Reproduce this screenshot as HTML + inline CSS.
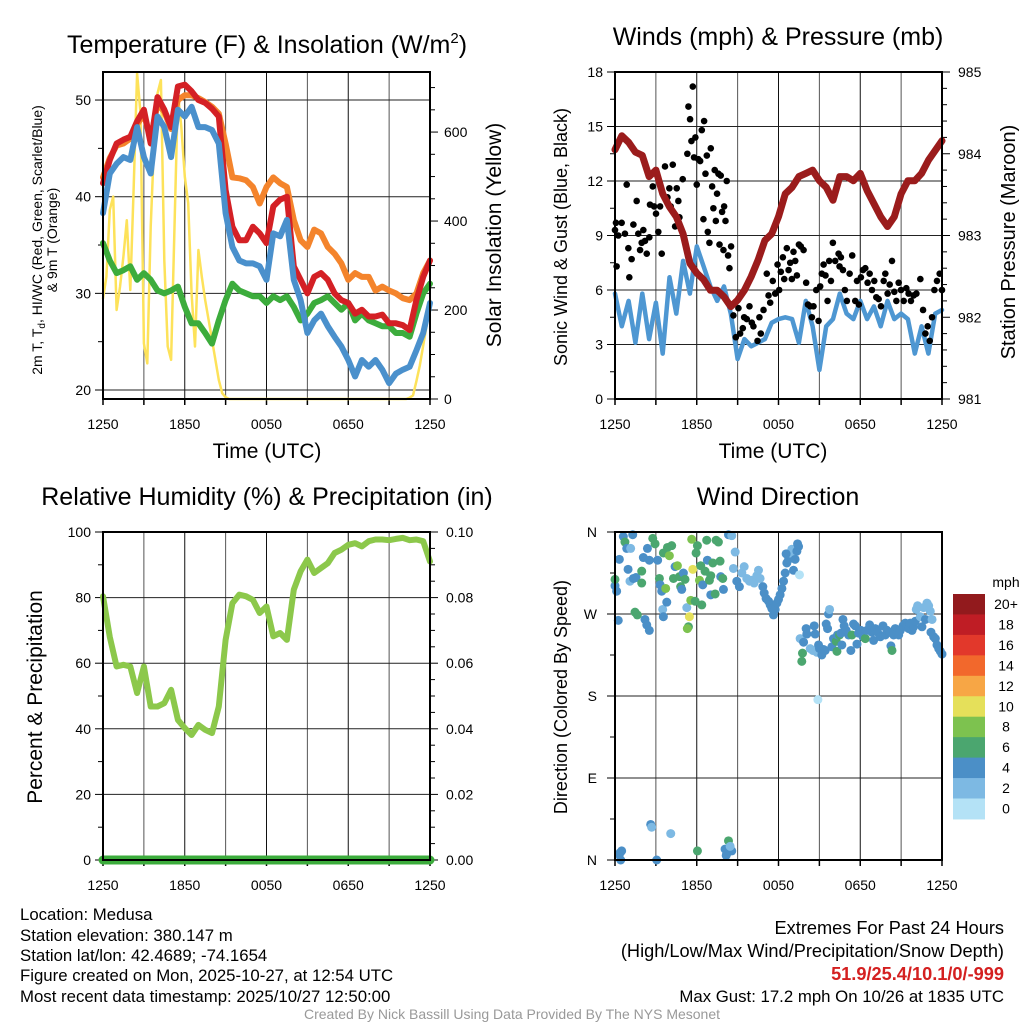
<!DOCTYPE html>
<html><head><meta charset="utf-8"><style>
html,body{margin:0;padding:0;background:#fff;}
svg{display:block;font-family:"Liberation Sans",Arial,sans-serif;}
.ft{position:absolute;font-family:"Liberation Sans",Arial,sans-serif;font-size:16.8px;color:#000;white-space:nowrap;}
.fr{font-size:18.2px;}
</style></head><body>
<div style="position:relative;width:1024px;height:1024px;overflow:hidden">
<svg id="chart" width="1024" height="1024" viewBox="0 0 1024 1024"></svg>
<div class="ft" style="left:20px;top:905px">Location: Medusa</div>
<div class="ft" style="left:20px;top:926px">Station elevation: 380.147 m</div>
<div class="ft" style="left:20px;top:946px">Station lat/lon: 42.4689; -74.1654</div>
<div class="ft" style="left:20px;top:966px">Figure created on Mon, 2025-10-27, at 12:54 UTC</div>
<div class="ft" style="left:20px;top:987px">Most recent data timestamp: 2025/10/27 12:50:00</div>
<div class="ft fr" style="right:20px;top:918px;text-align:right">Extremes For Past 24 Hours</div>
<div class="ft fr" style="right:20px;top:941px;text-align:right">(High/Low/Max Wind/Precipitation/Snow Depth)</div>
<div class="ft fr" style="right:20px;top:964px;text-align:right;color:#d42020;font-weight:bold">51.9/25.4/10.1/0/-999</div>
<div class="ft" style="right:20px;top:987px;text-align:right">Max Gust: 17.2 mph On 10/26 at 1835 UTC</div>
<div class="ft" style="left:0;width:1024px;top:1006px;text-align:center;font-size:14px;color:#999">Created By Nick Bassill Using Data Provided By The NYS Mesonet</div>
</div>
<script>
// ---- data (30-min steps, 12:50 to 12:50 UTC) ----
const xTickLabels = ["1250","1850","0050","0650","1250"];
const tempF = [41.4,43.8,45.5,45.9,46.2,47.8,49,45.5,50.3,49,47.2,51.4,51.6,50.9,50,49.7,49.1,48.3,40.7,36.9,35.5,35.5,36.9,36.2,35.2,39,39.7,40,32.8,31.4,30,31.7,32.1,31.4,30,29.3,29,27.9,28.3,27.6,27.6,27.8,26.9,26.9,26.7,26.2,29.3,31.7,33.4];
const temp9mF = [42,44,45.3,45.5,46,47.5,48.5,46,49.6,48.8,47,50,50.5,50.5,50.2,49.8,49.3,48.6,45.5,42,41.9,41.7,41,39.3,41,42,41.4,41,37.6,35.5,34.8,36.6,36.2,34.8,34.1,33.1,31.4,32.1,31.7,31.7,30.3,30.7,30.3,30,29.5,29.3,30,32.1,33.4];
const windChillF = [38.3,42.4,43.4,44.1,43.8,47.2,44.1,42.4,48.3,47.2,44.1,49,48.3,49.3,47.2,47.2,46.9,45.5,38.3,34.8,33.4,33.1,33.1,32.8,31.4,36.2,35.9,37.6,31.4,29.3,25.9,27.2,27.9,26.6,25.5,24.5,23.1,21.4,23.1,22.4,23.1,22.1,20.7,21.7,22.1,22.4,24.1,25.9,29];
const dewpointF = [35.2,33.4,32.1,32.4,32.8,31.4,32.1,31.4,30.3,30,30.3,30.7,28.6,26.9,26.9,25.9,24.8,27.2,29.3,31,30.3,30,29.7,29.7,29,29.7,29.3,29.7,28.6,27.2,27.9,29,29.3,29.7,29,28.3,29,27.2,27.9,27.2,26.9,26.6,26.6,25.9,25.9,25.5,27.9,30,31];
// insolation at 15-min steps
const solarWm2 = [226,275,425,455,200,252,320,402,245,477,732,642,125,80,387,575,687,717,312,118,88,387,687,612,500,440,237,118,335,275,222,178,133,88,43,13,4,
0,0,0,0,0,0,0,0,0,0,0,0,0,0,0,0,0,0,0,0,0,0,0,0,0,0,0,0,0,0,0,0,0,0,0,0,0,0,0,0,0,0,0,0,0,0,0,0,0,0,0,0,0,3,8,40,75,120,165,222];
const pressureMb = [984.05,984.22,984.14,984.02,983.98,983.72,983.8,983.51,983.35,983.23,983.02,982.66,982.54,982.46,982.33,982.33,982.25,982.13,982.21,982.33,982.5,982.7,982.94,983.02,983.23,983.51,983.59,983.72,983.76,983.8,983.67,983.59,983.43,983.72,983.72,983.67,983.76,983.55,983.39,983.23,983.11,983.23,983.51,983.67,983.67,983.76,983.92,984.04,984.16];
const windMph = [5.8,4.0,5.4,3.1,5.8,3.3,5.3,2.5,6.7,4.7,7.6,5.8,8.4,7.3,6.2,5.4,6.2,4.7,2.2,3.3,2.9,3.1,3.3,4.2,4.4,4.5,4.4,3.1,5.4,4.0,1.6,4.0,4.4,5.8,4.7,4.4,5.4,4.4,5.1,4.0,5.4,4.4,4.7,4.4,2.5,4.0,2.5,4.7,4.9];
const gustHour = [0,.07,.12,.24,.49,.73,.86,.98,1.05,1.22,1.35,1.59,1.71,1.84,1.96,2.08,2.2,2.33,2.52,2.57,2.77,2.87,3.01,3.18,3.31,3.43,3.67,3.85,3.99,4.09,4.24,4.41,4.53,4.65,4.73,4.97,5.31,5.39,5.51,5.61,5.71,5.8,5.9,6.0,6.12,6.25,6.37,6.49,6.54,6.64,6.74,6.81,6.93,7.03,7.13,7.22,7.32,7.4,7.49,7.59,7.67,7.76,7.86,7.96,8.01,8.11,8.2,8.3,8.4,8.52,8.69,8.87,9.06,9.18,9.38,9.48,9.67,9.87,10.04,10.16,10.46,10.6,10.7,10.9,11.14,11.27,11.39,11.58,11.76,11.93,12.05,12.17,12.32,12.42,12.61,12.74,12.86,12.98,13.1,13.23,13.35,13.5,13.64,13.84,14.03,14.16,14.33,14.45,14.57,14.77,14.94,15.06,15.18,15.31,15.45,15.6,15.72,15.85,15.99,16.16,16.41,16.48,16.58,16.73,16.87,17.02,17.22,17.41,17.63,17.76,17.9,18.05,18.2,18.37,18.54,18.69,18.86,19.03,19.18,19.35,19.52,19.72,19.84,20.01,20.16,20.33,20.5,20.65,20.82,20.99,21.19,21.38,21.55,21.72,21.92,22.12,22.41,22.61,22.78,22.95,23.1,23.27,23.44,23.63,23.83,24.0];
const gustMph = [9.3,9.7,7.3,9.0,9.7,9.1,11.8,8.3,6.7,7.7,9.6,10.9,9.1,8.2,8.6,9.3,8.7,8.0,8.9,10.7,11.7,10.6,10.2,9.2,10.6,8.0,12.8,11.1,11.6,10.6,12.9,9.5,11.6,10.9,10.0,12.1,13.5,16.1,15.4,14.2,17.2,13.3,14.4,11.8,13.2,13.1,14.8,9.9,15.3,12.4,13.4,9.2,8.6,13.8,11.7,10.5,12.6,9.8,11.3,12.4,8.5,12.3,10.3,8.2,10.6,9.8,12.0,7.9,7.2,8.4,4.6,3.4,5.0,3.6,3.9,4.5,4.4,5.1,4.2,4.0,3.2,4.5,3.6,4.9,6.9,5.7,5.3,6.5,5.8,7.4,6.0,7.0,7.8,6.6,8.3,7.1,7.5,6.6,8.1,7.6,6.8,8.5,8.4,8.2,6.4,5.2,5.1,4.5,5.1,6.0,4.3,6.2,6.9,7.4,6.8,5.4,7.6,6.5,8.6,7.6,8.0,7.3,7.8,7.1,6.0,5.4,6.9,7.9,5.4,6.5,5.2,6.7,7.1,7.2,6.4,6.9,6.0,6.5,5.6,5.5,5.1,6.5,6.9,5.8,6.3,7.6,5.9,5.4,6.4,6.0,5.4,6.1,5.8,5.4,5.7,5.8,6.6,4.9,3.6,4.0,3.2,4.5,6.0,6.5,6.9,6.0];
const rhPct = [80.4,68,59,59.5,59,50.9,59,46.8,46.8,47.8,51.9,42.7,40.2,38.1,41.2,39.7,38.7,46.8,67.1,78.3,80.9,80.4,79.3,75.3,77.3,68.2,69.2,67.1,82.4,88,91.6,87.5,89,90.5,93.6,94.6,96.1,96.6,95.6,97.2,97.7,97.7,97.5,97.9,98.2,97.5,97.7,97.2,91];
const precipIn = [0,0,0,0,0,0,0,0,0,0,0,0,0,0,0,0,0,0,0,0,0,0,0,0,0,0,0,0,0,0,0,0,0,0,0,0,0,0,0,0,0,0,0,0,0,0,0,0,0];
const dirHour = [0,0.12,0.24,0,0.32,0.61,0.73,0.86,1.15,0.96,
1.3,1.1,1.35,1.54,1.47,1.64,1.96,1.96,2.08,2.2,
2.33,2.52,2.38,2.52,2.77,2.94,3.13,3.26,3.31,3.43,
3.5,3.55,3.72,3.8,3.55,3.85,3.99,4.16,4.29,4.41,
4.58,4.73,4.82,4.9,5.02,5.14,5.27,5.39,5.31,5.46,
5.56,5.63,5.71,5.88,5.95,6.05,6.2,6.29,6.44,6.37,
6.61,6.73,6.78,6.93,7.03,7.03,7.18,7.35,7.42,7.59,
7.71,7.76,7.91,7.96,8.33,8.57,8.69,8.82,8.94,9.13,
9.31,9.48,9.67,9.87,10.04,10.21,10.41,10.53,10.65,10.85,
10.95,11.09,11.27,11.39,11.51,11.63,11.76,11.88,12.0,12.12,
12.25,12.37,12.49,12.61,12.74,12.86,12.98,13.1,13.22,13.35,
13.47,13.54,13.4,12.56,13.59,13.84,13.76,13.71,14.03,14.08,
14.33,14.52,14.62,14.69,14.82,14.94,15.01,15.18,15.31,15.43,
15.5,15.6,15.67,15.75,15.92,16.04,16.24,16.29,16.33,16.48,
16.58,16.65,16.73,16.82,16.97,17.14,17.31,17.39,17.51,17.63,
17.76,17.88,18.05,18.2,18.37,18.49,18.69,18.86,18.98,19.1,
19.27,19.47,19.67,19.84,19.96,20.16,20.25,20.33,20.45,20.57,
20.69,20.82,20.94,21.14,21.31,21.43,21.55,21.67,21.8,21.92,
22.04,22.11,22.21,22.41,22.53,22.65,22.78,22.9,23.02,23.14,
23.27,23.19,23.39,23.51,23.63,23.76,23.88,24.0,14.89,0.37,
0.49,0.32,0.42,2.62,2.69,3.06,4.09,6.05,8.08,8.2,
8.33,8.57,8.45,8.16];
const dirDeg = [301,295,263,308,330,355,349,342,342,319,
357,306,309,310,272,269,317,304,332,264,
258,252,342,329,353,347,329,309,302,295,
275,267,298,283,337,343,334,345,309,322,
323,311,300,297,315,308,277,256,254,267,
285,352,319,284,337,345,307,323,302,280,
317,351,329,307,312,291,326,292,351,349,
328,311,309,297,357,356,320,338,306,300,
315,322,309,306,307,304,312,318,309,300,
293,287,284,280,276,269,275,282,286,291,
298,306,315,326,330,337,341,318,330,339,
344,313,347,336,243,239,227,218,254,248,
232,230,257,248,228,236,232,225,231,230,
259,254,270,275,234,243,240,229,247,247,
249,236,264,257,252,247,230,247,259,257,
237,249,252,245,243,252,258,250,241,254,
250,245,257,247,252,250,235,230,247,254,
249,247,252,257,260,256,254,260,252,256,
262,275,279,267,256,277,264,282,279,273,
264,250,245,243,236,232,229,226,176,8,
10,6,0,39,36,0,29,10,12,7,
21,10,15,5];
const dirSpeed = [5,5,5,7,5,5,7,5,3,5,
5,3,5,5,7,7,7,7,5,5,
5,5,5,5,7,7,5,7,5,5,
3,5,9,5,7,7,9,7,7,5,
9,7,7,5,5,7,3,7,9,11,
9,9,11,7,7,7,9,7,5,7,
7,7,5,7,7,5,7,7,7,7,
7,5,7,5,5,3,3,3,5,5,
3,3,3,3,3,3,3,3,3,5,
5,5,5,5,5,5,5,5,5,5,
5,5,5,5,5,3,3,5,5,5,
5,1,5,5,3,5,7,7,5,5,
3,3,5,5,3,5,5,5,5,5,
5,5,5,3,5,5,7,7,5,7,
5,5,5,5,5,5,5,7,5,5,
5,5,5,5,7,5,5,5,5,5,
5,5,5,5,5,5,5,7,5,5,
5,5,5,5,5,5,5,5,5,5,
5,3,3,3,5,3,5,3,3,3,
3,5,5,5,5,5,5,5,1,5,
5,5,5,5,3,5,3,7,5,5,
7,5,3,5];
const speedBinLabels = ["0","2","4","6","8","10","12","14","16","18","20+"];
const speedBinColors = ["#b4e2f6","#7db9e3","#4b8fc7","#4ba66f","#7dc24f","#e5e05a","#f7a645","#f2682c","#e2382b","#bf1d25","#921a1d"];

// ---- drawing ----
const NS="http://www.w3.org/2000/svg";
const svg=document.getElementById('chart');
function mk(tag,attrs,parent){const e=document.createElementNS(NS,tag);for(const k in attrs)e.setAttribute(k,attrs[k]);(parent||svg).appendChild(e);return e;}
function txt(x,y,s,size,anchor,extra){const e=mk('text',Object.assign({x:x,y:y,'font-size':size,'text-anchor':anchor||'middle',fill:'#000'},extra||{}));e.textContent=s;return e;}

function panel(L,T,W,H){
  const P={L:L,T:T,W:W,H:H};
  P.x=h=>L+h/24*W;
  return P;
}
function linY(P,min,max){return v=>P.T+P.H-(v-min)/(max-min)*P.H;}

function frame(P,name,hTicksY,leftTicks,rightTicks){
  const g=mk('g',{});
  
  
  for(let k=1;k<8;k++){const x=P.L+k*P.W/8;mk('line',{x1:x,x2:x,y1:P.T,y2:P.T+P.H,stroke:k%2?'#555':'#111','stroke-width':1},g);}
  hTicksY.forEach(y=>mk('line',{x1:P.L,x2:P.L+P.W,y1:y,y2:y,stroke:'#222','stroke-width':1},g));
  for(let k=0;k<=8;k++){const x=P.L+k*P.W/8;mk('line',{x1:x,x2:x,y1:P.T+P.H,y2:P.T+P.H+6,stroke:'#000','stroke-width':1.5},g);}
  (leftTicks||[]).forEach(t=>mk('line',{x1:P.L-(t[1]?8:5),x2:P.L,y1:t[0],y2:t[0],stroke:'#000','stroke-width':1},g));
  (rightTicks||[]).forEach(t=>mk('line',{x1:P.L+P.W,x2:P.L+P.W+(t[1]?8:5),y1:t[0],y2:t[0],stroke:'#000','stroke-width':1},g));
  xTickLabels.forEach((s,i)=>{const t=txt(P.L+i*P.W/4,P.T+P.H+30,s,14);
    
    });
}
function border(P,name){
  const r=mk('rect',{x:P.L,y:P.T,width:P.W,height:P.H,fill:'none',stroke:'#000','stroke-width':2});
  
  
}
function series(P,vals,yf,color,width,name,nPerDay){
  const n=nPerDay||vals.length-1;
  const d=vals.map((v,i)=>(i?'L':'M')+P.x(i/n*24).toFixed(1)+' '+yf(v).toFixed(1)).join('');
  const p=mk('path',{d:d,fill:'none',stroke:color,'stroke-width':width,'stroke-linejoin':'round','stroke-linecap':'round'});
  
  
  return p;
}
function vlabel(x,y,s,size,name){
  const t=txt(x,y,s,size,'middle',{transform:'rotate(-90 '+x+' '+y+')'});
  
  
  return t;
}
function title(x,y,s,name){const t=txt(x,y,s,25);
  
  return t;}
function xtitle(x,s,name){const t=txt(x,458,s,21);
  
  return t;}

// Panel 1: temperature
const P1=panel(103,72,327,327);
const y1=linY(P1,19.07,52.9), y1r=linY(P1,0,735);
{
  const lt=[];for(let v=20;v<=50;v+=5)lt.push([y1(v),v%10==0]);
  const rt=[];for(let v=0;v<=700;v+=50)rt.push([y1r(v),v%200==0]);
  frame(P1,'temp-panel',[20,30,40,50].map(y1),lt,rt);
  series(P1,solarWm2,y1r,'#fde25a',2.5,'solar-insolation-line',96);
  series(P1,dewpointF,y1,'#3cac3c',6,'dewpoint-line');
  series(P1,temp9mF,y1,'#f4842c',6,'temp-9m-line');
  series(P1,tempF,y1,'#d42025',6,'temp-2m-line');
  series(P1,windChillF,y1,'#4a90cc',6,'wind-chill-line');
  border(P1,'temp-panel');
  [20,30,40,50].forEach(v=>{const t=txt(P1.L-12,y1(v)+5,String(v),14,'end');
    
    });
  [0,200,400,600].forEach(v=>{const t=txt(P1.L+P1.W+14,y1r(v)+5,String(v),14,'start');
    
    });
  const tt=title(267,53,'Temperature (F) & Insolation (W/m','temp-panel-title');
  const sup=mk('tspan',{dy:-10,'font-size':15},tt);sup.textContent='2';
  const cl=mk('tspan',{dy:10},tt);cl.textContent=')';
  xtitle(267,'Time (UTC)','temp-x-axis-title');
  const yl=vlabel(42,240,'',14,'temp-y-axis-title');
  const a=mk('tspan',{},yl);a.textContent='2m T, T';
  const b=mk('tspan',{dy:3,'font-size':10},yl);b.textContent='d';
  const c=mk('tspan',{dy:-3},yl);c.textContent=', HI/WC (Red, Green, Scarlet/Blue)';
  vlabel(57,240,'& 9m T (Orange)',14,'temp-y-axis-title-line2');
  vlabel(501,235,'Solar Insolation (Yellow)',21,'solar-y-axis-title');
}

// Panel 2: winds & pressure
const P2=panel(615,72,327,327);
const y2=linY(P2,0,18), y2r=linY(P2,981,985);
{
  const lt=[];for(let v=0;v<=18;v+=1.5)lt.push([y2(v),v%3==0]);
  const rt=[];for(let v=981;v<=985.001;v+=0.2)rt.push([y2r(v),Math.abs(v-Math.round(v))<0.01]);
  frame(P2,'wind-panel',[0,3,6,9,12,15,18].map(y2),lt,rt);
  series(P2,windMph,y2,'#4e97d2',4.5,'sonic-wind-line');
  const g=mk('g',{});
  
  
  gustHour.forEach((h,i)=>{const c=mk('circle',{cx:P2.x(h),cy:y2(gustMph[i]),r:3.3,fill:'#000'},g);
    
    });
  series(P2,pressureMb,y2r,'#9b1c1c',7,'pressure-line');
  border(P2,'wind-panel');
  [0,3,6,9,12,15,18].forEach(v=>{const t=txt(P2.L-12,y2(v)+5,String(v),14,'end');
    
    });
  [981,982,983,984,985].forEach(v=>{const t=txt(P2.L+P2.W+16,y2r(v)+5,String(v),14,'start');
    
    });
  title(778,45,'Winds (mph) & Pressure (mb)','wind-panel-title');
  xtitle(773,'Time (UTC)','wind-x-axis-title');
  vlabel(567,237,'Sonic Wind & Gust (Blue, Black)',18,'wind-y-axis-title');
  vlabel(1015,242,'Station Pressure (Maroon)',20,'pressure-y-axis-title');
}

// Panel 3: RH & precip
const P3=panel(103,532,327,328);
const y3=linY(P3,0,100), y3r=linY(P3,0,0.1);
{
  const lt=[];for(let v=0;v<=100;v+=10)lt.push([y3(v),v%20==0]);
  const rt=[];for(let v=0;v<=0.1001;v+=0.005)rt.push([y3r(v),Math.round(v*1000)%20==0]);
  frame(P3,'rh-panel',[0,20,40,60,80,100].map(y3),lt,rt);
  series(P3,rhPct,y3,'#8cc84b',6,'relative-humidity-line');
  series(P3,precipIn,y3r,'#3cac3c',9,'precipitation-line');
  border(P3,'rh-panel');
  [0,20,40,60,80,100].forEach(v=>{const t=txt(P3.L-12,y3(v)+5,String(v),14,'end');
    
    });
  ['0.00','0.02','0.04','0.06','0.08','0.10'].forEach(s=>{const t=txt(P3.L+P3.W+16,y3r(parseFloat(s))+5,s,14,'start');
    
    });
  title(267,505,'Relative Humidity (%) & Precipitation (in)','rh-panel-title');
  vlabel(42,697,'Percent & Precipitation',21,'rh-y-axis-title');
}

// Panel 4: wind direction
const P4=panel(615,532,327,328);
const y4=linY(P4,0,360);
{
  const lt=[];for(let v=0;v<=360;v+=45)lt.push([y4(v),v%90==0]);
  frame(P4,'direction-panel',[0,90,180,270,360].map(y4),lt,[]);
  const g=mk('g',{});
  
  
  dirHour.forEach((h,i)=>{const bin=Math.min(10,Math.floor(dirSpeed[i]/2));
    const c=mk('circle',{cx:P4.x(h),cy:y4(dirDeg[i]),r:4.5,fill:speedBinColors[bin]},g);
    
    });
  border(P4,'direction-panel');
  [['N',0],['E',90],['S',180],['W',270],['N',360]].forEach(d=>{const t=txt(P4.L-18,y4(d[1])+5,d[0],14,'end');
    
    });
  title(778,505,'Wind Direction','direction-panel-title');
  vlabel(567,697,'Direction (Colored By Speed)',18,'direction-y-axis-title');
  // colorbar
  const cb=mk('g',{});
  
  
  const top=594,bh=20.45;
  speedBinLabels.forEach((s,i)=>{const k=10-i;
    const r=mk('rect',{x:953,y:top+i*bh,width:32,height:bh+0.5,fill:speedBinColors[k]},cb);
    
    
    const t=txt(1006,top+i*bh+15,speedBinLabels[k],14,'middle');
    
    });
  const u=txt(1006,587,'mph',14,'middle');
  
  
}
</script>
</body></html>
